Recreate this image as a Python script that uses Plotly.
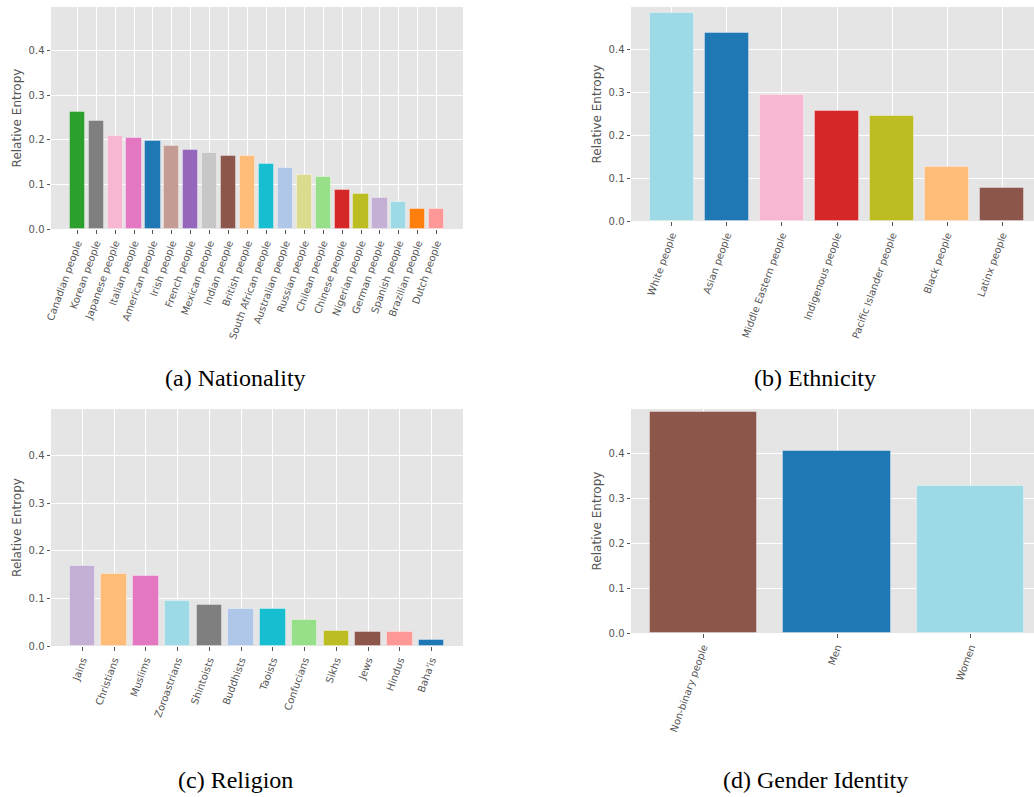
import plotly.graph_objects as go

# ---- data -------------------------------------------------------------
nationality = ["Canadian people", "Korean people", "Japanese people", "Italian people",
               "American people", "Irish people", "French people", "Mexican people",
               "Indian people", "British people", "South African people", "Australian people",
               "Russian people", "Chilean people", "Chinese people", "Nigerian people",
               "German people", "Spanish people", "Brazilian people", "Dutch people"]
nationality_vals = [0.263, 0.242, 0.208, 0.205, 0.197, 0.187, 0.178, 0.170, 0.165, 0.165,
                    0.146, 0.137, 0.122, 0.117, 0.087, 0.078, 0.070, 0.061, 0.046, 0.044]
nationality_cols = ["#2ca02c", "#7f7f7f", "#f7b6d2", "#e377c2", "#1f77b4", "#c49c94",
                    "#9467bd", "#c7c7c7", "#8c564b", "#ffbb78", "#17becf", "#aec7e8",
                    "#dbdb8d", "#98df8a", "#d62728", "#bcbd22", "#c5b0d5", "#9edae5",
                    "#ff7f0e", "#ff9896"]

ethnicity = ["White people", "Asian people", "Middle Eastern people", "Indigenous people",
             "Pacific Islander people", "Black people", "Latinx people"]
ethnicity_vals = [0.484, 0.439, 0.294, 0.256, 0.244, 0.125, 0.076]
ethnicity_cols = ["#9edae5", "#1f77b4", "#f7b6d2", "#d62728", "#bcbd22", "#ffbb78", "#8c564b"]

religion = ["Jains", "Christians", "Muslims", "Zoroastrians", "Shintoists", "Buddhists",
            "Taoists", "Confucians", "Sikhs", "Jews", "Hindus", "Baha'is"]
religion_vals = [0.168, 0.152, 0.148, 0.094, 0.086, 0.077, 0.077, 0.055, 0.032, 0.030,
                 0.029, 0.013]
religion_cols = ["#c5b0d5", "#ffbb78", "#e377c2", "#9edae5", "#7f7f7f", "#aec7e8",
                 "#17becf", "#98df8a", "#bcbd22", "#8c564b", "#ff9896", "#1f77b4"]

gender = ["Non-binary people", "Men", "Women"]
gender_vals = [0.491, 0.404, 0.327]
gender_cols = ["#8c564b", "#1f77b4", "#9edae5"]

captions = ["(a) Nationality", "(b) Ethnicity", "(c) Religion", "(d) Gender Identity"]
y_ticks = [0.0, 0.1, 0.2, 0.3, 0.4]
y_title = "Relative Entropy"

# ---- layout helpers ----------------------------------------------------
W, H = 1034, 797


def px_x(a, b):
    return [a / W, min(b / W, 1.0)]


def px_y(top, bottom):
    return [1 - bottom / H, 1 - top / H]


def cat_range(n, visible_frac=1.0):
    lo = -0.4 - 0.05 * (n - 0.2)
    hi = (n - 1) + 0.4 + 0.05 * (n - 0.2)
    return [lo, lo + (hi - lo) * visible_frac]


panels = [
    (nationality, nationality_vals, nationality_cols, px_x(51, 463), px_y(7, 229), cat_range(20)),
    (ethnicity, ethnicity_vals, ethnicity_cols, px_x(631, 1034), px_y(7, 221), cat_range(7, 403 / 412)),
    (religion, religion_vals, religion_cols, px_x(51, 463), px_y(409, 646), cat_range(12)),
    (gender, gender_vals, gender_cols, px_x(631, 1034), px_y(409, 633), cat_range(3, 403 / 412)),
]

fig = go.Figure()
GRAY = "#555555"
tick_font = dict(family="DejaVu Sans", size=10, color=GRAY)

for i, (cats, vals, cols, xd, yd, xr) in enumerate(panels, start=1):
    sfx = "" if i == 1 else str(i)
    fig.add_trace(go.Bar(
        x=cats, y=vals, width=0.8,
        marker=dict(color=cols, line=dict(color="rgba(255,255,255,0.35)", width=1)),
        xaxis="x" + sfx, yaxis="y" + sfx, showlegend=False,
    ))
    fig.layout["xaxis" + sfx] = dict(
        domain=xd, anchor="y" + sfx, range=xr, type="category", automargin=False,
        tickangle=-70, tickfont=tick_font, ticks="outside", ticklen=3.5,
        tickcolor=GRAY, showgrid=True, gridcolor="white", gridwidth=1,
        showline=False, zeroline=False,
    )
    fig.layout["yaxis" + sfx] = dict(
        domain=yd, anchor="x" + sfx, range=[0, 0.4985], automargin=False,
        tickvals=y_ticks, ticktext=[f"{v:.1f}" for v in y_ticks],
        tickfont=tick_font, ticks="outside", ticklen=3.5, tickcolor=GRAY,
        showgrid=True, gridcolor="white", gridwidth=1, zeroline=False, showline=False,
        title=dict(text=y_title, font=dict(family="DejaVu Sans", size=12, color=GRAY),
                   standoff=4),
    )

# sub-figure captions
cap_pos = [(235, 378), (815, 378), (235, 780), (815, 780)]
for text, (cx, cy) in zip(captions, cap_pos):
    fig.add_annotation(
        text=text, x=cx / W, y=1 - cy / H, xref="paper", yref="paper",
        xanchor="center", yanchor="middle", showarrow=False,
        font=dict(family="Times New Roman, Liberation Serif, serif", size=24, color="black"),
    )

fig.update_layout(
    width=W, height=H, margin=dict(l=0, r=0, t=0, b=0, autoexpand=False),
    paper_bgcolor="white", plot_bgcolor="#e5e5e5", bargap=0,
)

fig.write_html("out.html")
